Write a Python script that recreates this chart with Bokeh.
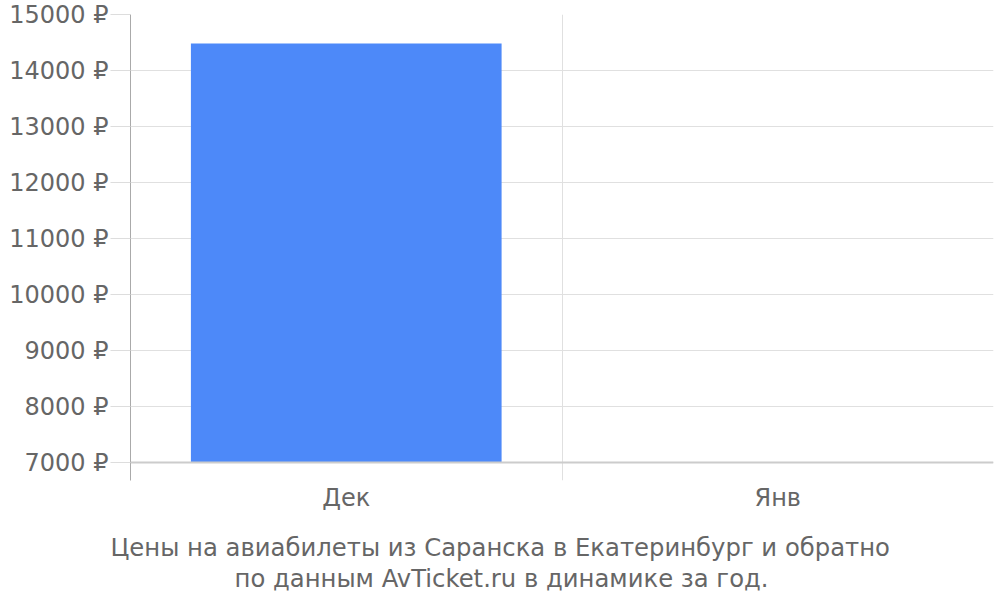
from bokeh.plotting import figure
from bokeh.models import FixedTicker, PrintfTickFormatter, Span, Title, Range1d
from bokeh.embed import file_html
from bokeh.resources import INLINE

# data
months = ["Дек", "Янв"]
prices = [14480, float("nan")]   # no bar shown for Янв
y_ticks = [7000, 8000, 9000, 10000, 11000, 12000, 13000, 14000, 15000]
title_lines = ["Цены на авиабилеты из Саранска в Екатеринбург и обратно",
               "по данным AvTicket.ru в динамике за год."]
title_offsets = [-20, 104]   # left-aligned lines, shifted so they centre on the canvas

FONT = "DejaVu Sans"
TXT = "#666666"
FS = "24px"
W, H = 1000, 600
baseline = y_ticks[0]

x_pos = [i + 0.5 for i in range(len(months))]

p = figure(width=W, height=H, output_backend="svg", toolbar_location=None,
           x_range=Range1d(0, len(months)), y_range=Range1d(6679, 15000),
           min_border_left=130, min_border_right=7, min_border_top=14,
           min_border_bottom=120)
p.outline_line_color = None

p.vbar(x=x_pos, top=prices, bottom=baseline, width=0.72,
       color="#4d89f9", line_color=None)

# y axis
p.yaxis.ticker = FixedTicker(ticks=y_ticks)
p.yaxis.formatter = PrintfTickFormatter(format="%d ₽")
p.yaxis.major_label_text_font = FONT
p.yaxis.major_label_text_font_size = FS
p.yaxis.major_label_text_color = TXT
p.yaxis.major_tick_out = 20
p.yaxis.major_tick_in = 0
p.yaxis.major_tick_line_color = "#dddddd"
p.yaxis.minor_tick_line_color = None
p.yaxis.axis_line_color = "#aaaaaa"
p.yaxis.major_label_standoff = 2

# x axis: labels at category centres, boundaries from the grid
p.xaxis.ticker = FixedTicker(ticks=x_pos)
p.xaxis.major_label_overrides = {x: m for x, m in zip(x_pos, months)}
p.xaxis.major_label_text_font = FONT
p.xaxis.major_label_text_font_size = FS
p.xaxis.major_label_text_color = TXT
p.xaxis.axis_line_color = None
p.xaxis.major_tick_line_color = None
p.xaxis.minor_tick_line_color = None
p.xaxis.major_tick_out = 0
p.xaxis.major_label_standoff = 3
# blank axis label only as a spacer before the caption
p.xaxis.axis_label = " "
p.xaxis.axis_label_text_font_size = "10px"
p.xaxis.axis_label_standoff = 2

p.xgrid.ticker = FixedTicker(ticks=list(range(len(months) + 1)))
p.xgrid.grid_line_color = "#e0e0e0"
p.ygrid.ticker = FixedTicker(ticks=y_ticks)
p.ygrid.grid_line_color = "#e0e0e0"

p.add_layout(Span(location=baseline, dimension="width",
                  line_color="#cccccc", line_width=2))

for line, off in zip(title_lines, title_offsets):
    p.add_layout(Title(text=line, align="left", offset=off, standoff=0,
                       text_font=FONT, text_font_size="24.3px", text_color=TXT,
                       text_font_style="normal"), "below")

open("out.html", "w").write(file_html(p, INLINE))
